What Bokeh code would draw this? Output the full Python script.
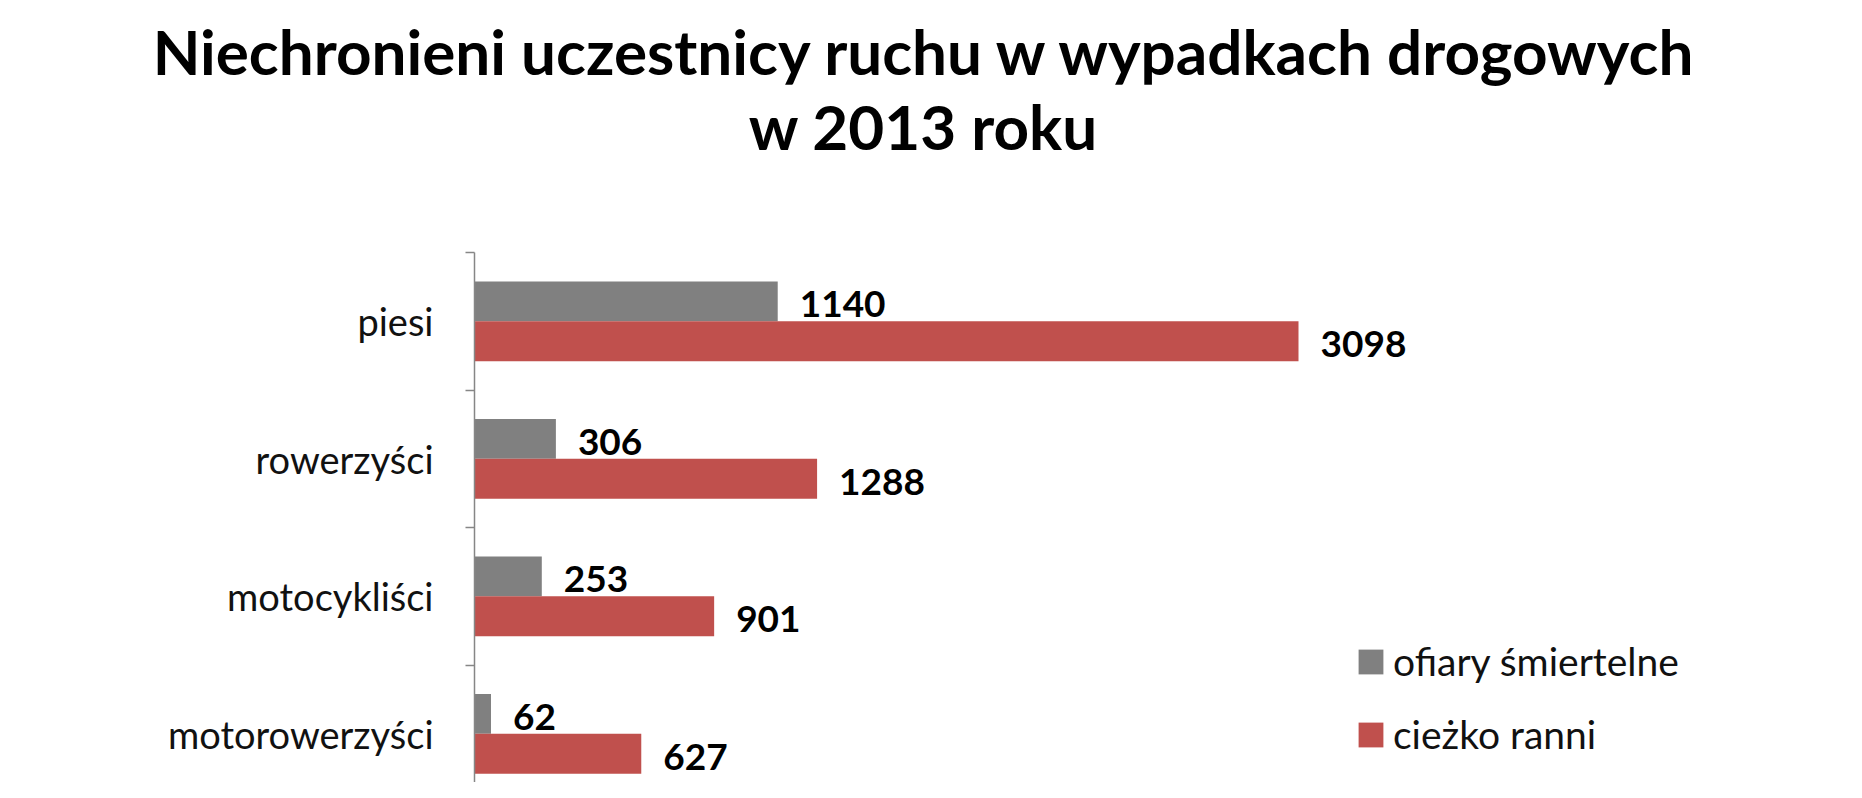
from bokeh.plotting import figure
from bokeh.models import (ColumnDataSource, Range1d, FixedTicker, Legend, LegendItem, Div)
from bokeh.layouts import column
from bokeh.core.properties import value
from bokeh.embed import file_html
from bokeh.resources import INLINE

# ---- data ----
categories = ["piesi", "rowerzyści", "motocykliści", "motorowerzyści"]
ofiary_smiertelne = [1140, 306, 253, 62]
ciezko_ranni = [3098, 1288, 901, 627]
series_names = ["ofiary śmiertelne", "cieżko ranni"]
title_lines = ["Niechronieni uczestnicy ruchu w wypadkach drogowych", "w 2013 roku"]

# ---- style ----
GRAY = "#808080"
RED = "#C0504D"
FONT = "Lato"
BAND_PX = 137.5
BAR_H = 0.29

W = 1846
DIV_H = 200
PLOT_H = 582
TOP = 52
LEFT = 474
frame_h = PLOT_H - TOP
y_start = frame_h / BAND_PX
frame_w = W - LEFT
x_end = frame_w / 0.26598

centers = [i + 0.5 for i in range(len(categories))]
src_g = ColumnDataSource(dict(y=[c - BAR_H / 2 for c in centers], v=ofiary_smiertelne,
                              t=[str(v) for v in ofiary_smiertelne]))
src_r = ColumnDataSource(dict(y=[c + BAR_H / 2 for c in centers], v=ciezko_ranni,
                              t=[str(v) for v in ciezko_ranni]))

p = figure(width=W, height=PLOT_H, output_backend="svg", toolbar_location=None,
           x_range=Range1d(0, x_end), y_range=Range1d(y_start, 0),
           min_border_top=TOP, min_border_left=LEFT, min_border_right=0, min_border_bottom=0,
           x_axis_type=None)
p.outline_line_color = None
p.xgrid.visible = False
p.ygrid.visible = False
p.background_fill_color = "white"

rg = p.hbar(y="y", left=0, right="v", height=BAR_H, source=src_g, fill_color=GRAY, line_color=None)
rr = p.hbar(y="y", left=0, right="v", height=BAR_H, source=src_r, fill_color=RED, line_color=None)

for src in (src_g, src_r):
    p.text(x="v", y="y", text="t", source=src, x_offset=22, y_offset=3,
           text_baseline="middle", text_align="left",
           text_font=value(FONT), text_font_style="bold", text_font_size="37px",
           text_color="black")

ax = p.yaxis[0]
ax.ticker = FixedTicker(ticks=centers, minor_ticks=list(range(len(categories) + 1)))
ax.major_label_overrides = {c: name for c, name in zip(centers, categories)}
ax.major_tick_out = 0
ax.major_tick_in = 0
ax.minor_tick_out = 9
ax.minor_tick_in = 0
ax.minor_tick_line_color = "#868686"
ax.axis_line_color = "#868686"
ax.axis_line_width = 1.5
ax.minor_tick_line_width = 1.5
ax.major_label_standoff = 32
ax.major_label_text_font = FONT
ax.major_label_text_font_size = "38px"
ax.major_label_text_color = "#111111"

legend = Legend(items=[LegendItem(label=series_names[0], renderers=[rg]),
                       LegendItem(label=series_names[1], renderers=[rr])],
                location=(881, 25), orientation="vertical",
                glyph_width=31, glyph_height=31, label_height=44,
                label_standoff=7, spacing=27, padding=0, margin=0,
                border_line_color=None, background_fill_alpha=0,
                label_text_font=FONT, label_text_font_size="39px",
                label_text_color="#111111")
p.add_layout(legend)

title_html = (
    f'<div style="font-family:{FONT};font-weight:bold;font-size:62px;line-height:75px;'
    f'text-align:center;padding-top:14px;color:#000;width:{W}px">'
    + "<br>".join(title_lines) + "</div>"
)
div = Div(text=title_html, width=W, height=DIV_H, margin=(0, 0, 0, 0))

layout = column(div, p, spacing=0)
open("out.html", "w").write(file_html(layout, INLINE))
